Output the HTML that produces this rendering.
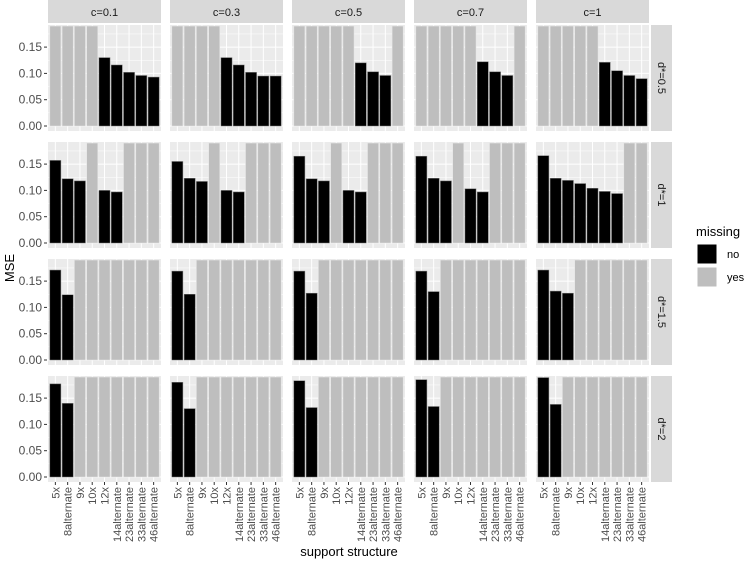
<!DOCTYPE html>
<html><head><meta charset="utf-8"><style>
body{margin:0;background:#fff;}
svg{display:block;font-family:"Liberation Sans",sans-serif;}
</style></head><body>
<svg id="chart" width="750" height="567"></svg>
<script>
const categories=["5x","8alternate","9x","10x","12x","14alternate","23alternate","33alternate","46alternate"];
const colLabels=["c=0.1","c=0.3","c=0.5","c=0.7","c=1"];
const rowLabels=["d*=0.5","d*=1","d*=1.5","d*=2"];
const yTicks=[0,0.05,0.10,0.15];
const yTickLabels=["0.00","0.05","0.10","0.15"];
const missingValue=0.19;
// null = missing
const row1=[[null,null,null,null,0.130,0.116,0.102,0.096,0.093],[null,null,null,null,0.130,0.116,0.102,0.095,0.095],[null,null,null,null,null,0.120,0.103,0.096,null],[null,null,null,null,null,0.122,0.103,0.096,null],[null,null,null,null,null,0.121,0.105,0.096,0.090]];
const row2=[[0.157,0.122,0.118,null,0.100,0.097,null,null,null],[0.155,0.123,0.117,null,0.100,0.097,null,null,null],[0.165,0.122,0.118,null,0.100,0.097,null,null,null],[0.165,0.123,0.118,null,0.103,0.097,null,null,null],[0.166,0.123,0.119,0.113,0.104,0.098,0.094,null,null]];
const row3=[[0.171,0.124,null,null,null,null,null,null,null],[0.169,0.125,null,null,null,null,null,null,null],[0.169,0.127,null,null,null,null,null,null,null],[0.169,0.130,null,null,null,null,null,null,null],[0.171,0.131,0.127,null,null,null,null,null,null]];
const row4=[[0.177,0.140,null,null,null,null,null,null,null],[0.180,0.130,null,null,null,null,null,null,null],[0.183,0.132,null,null,null,null,null,null,null],[0.185,0.134,null,null,null,null,null,null,null],[0.189,0.138,null,null,null,null,null,null,null]];
const rows=[row1,row2,row3,row4];

const NS="http://www.w3.org/2000/svg";
const svg=document.getElementById("chart");
function mk(tag,attrs,parent){const e=document.createElementNS(NS,tag);for(const k in attrs)e.setAttribute(k,attrs[k]);(parent||svg).appendChild(e);return e;}
const PX0=48,PW=113,PSTEP=122,PY0=25,PH=106,RSTEP=117;
const yScale=526;
function xPos(ci,i){const step=PW/(categories.length+0.2);return PX0+ci*PSTEP+step*(0.6+i);}
function yPos(ri,v){return PY0+ri*RSTEP+PH-5-v*yScale;}
const step=PW/(categories.length+0.2);

colLabels.forEach((l,ci)=>{
  const g=mk("g",{});
  
  
  mk("rect",{x:PX0+ci*PSTEP,y:0,width:PW,height:23,fill:"#d9d9d9"},g);
  const t=mk("text",{x:PX0+ci*PSTEP+PW/2,y:16,"text-anchor":"middle","font-size":"11",fill:"#1a1a1a"},g);t.textContent=l;
});
rowLabels.forEach((l,ri)=>{
  const g=mk("g",{});
  
  
  const y=PY0+ri*RSTEP;
  mk("rect",{x:651,y:y,width:21,height:PH,fill:"#d9d9d9"},g);
  const t=mk("text",{x:0,y:0,"text-anchor":"middle","font-size":"11",fill:"#1a1a1a",transform:`translate(658,${y+PH/2}) rotate(90)`},g);t.textContent=l;
});
rows.forEach((row,ri)=>{
  yTicks.forEach((v,k)=>{
    const y=yPos(ri,v);
    const t=mk("text",{x:42,y:y+4,"text-anchor":"end","font-size":"12",fill:"#4d4d4d"});t.textContent=yTickLabels[k];
    
    
    mk("line",{x1:44,x2:47,y1:y,y2:y,stroke:"#333","stroke-width":1});
  });
  row.forEach((vals,ci)=>{
    const px=PX0+ci*PSTEP,py=PY0+ri*RSTEP;
    const g=mk("g",{});
    
    
    mk("rect",{x:px,y:py,width:PW,height:PH,fill:"#ebebeb"},g);
    for(let v=0.025;v<0.2;v+=0.05){const y=yPos(ri,v);if(y>py)mk("line",{x1:px,x2:px+PW,y1:y,y2:y,stroke:"#fff","stroke-width":0.5},g);}
    yTicks.forEach(v=>{const y=yPos(ri,v);mk("line",{x1:px,x2:px+PW,y1:y,y2:y,stroke:"#fff","stroke-width":1},g);});
    categories.forEach((c,i)=>{const x=xPos(ci,i);mk("line",{x1:x,x2:x,y1:py,y2:py+PH,stroke:"#fff","stroke-width":1},g);});
    vals.forEach((v,i)=>{
      const miss=v===null;const val=miss?missingValue:v;
      const x=xPos(ci,i)-step*0.45;
      const y=yPos(ri,val);
      const r=mk("rect",{x:x,y:y,width:step*0.9,height:yPos(ri,0)-y,fill:miss?"#bebebe":"#000",stroke:miss?"#e6e6e6":"#777","stroke-width":0.5},g);
      
      
    });
  });
});
colLabels.forEach((l,ci)=>{
  categories.forEach((c,i)=>{
    const x=xPos(ci,i);const yb=PY0+3*RSTEP+PH;
    mk("line",{x1:x,x2:x,y1:yb,y2:yb+3,stroke:"#333","stroke-width":1});
    const t=mk("text",{x:0,y:0,"text-anchor":"end","font-size":"11",fill:"#4d4d4d",transform:`translate(${x+4},${yb+5}) rotate(-90)`});t.textContent=c;
    
    
  });
});
let t=mk("text",{x:349,y:556,"text-anchor":"middle","font-size":"13",fill:"#000"});t.textContent="support structure";


t=mk("text",{x:0,y:0,"text-anchor":"middle","font-size":"13",fill:"#000",transform:"translate(14,268) rotate(-90)"});t.textContent="MSE";


const lg=mk("g",{});


t=mk("text",{x:696,y:236,"font-size":"13",fill:"#000"},lg);t.textContent="missing";
[["no","#000",244],["yes","#bebebe",267]].forEach(([l,c,y])=>{
  const e=mk("g",{},lg);
  
  
  mk("rect",{x:697,y:y,width:20,height:20,fill:c,stroke:"#fff","stroke-width":1},e);
  const tt=mk("text",{x:727,y:y+14,"font-size":"11",fill:"#000"},e);tt.textContent=l;
});
</script>
</body></html>
